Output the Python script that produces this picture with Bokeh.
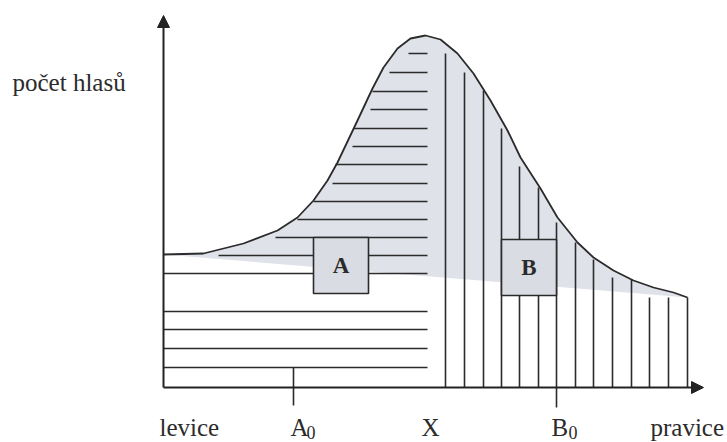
from bokeh.plotting import figure
from bokeh.models import Range1d, Arrow, NormalHead
from bokeh.core.properties import value
from bokeh.embed import file_html
from bokeh.resources import INLINE

# Curve of vote counts along the left-right axis
curve_x = [0, 40, 80, 114, 134, 150, 164, 174, 184, 194, 209, 220, 234, 247, 262,
           277, 294, 310, 327, 344, 357, 377, 394, 414, 430, 450, 470, 490, 510, 524]
curve_y = [133, 134, 144, 157, 170, 187, 207, 225, 246, 267, 299, 320, 339, 349, 352,
           348, 334, 314, 287, 257, 230, 199, 170, 145, 130, 117, 107, 100, 95, 90]

# Horizontal hatching (left part, voters of A)
h_levels = [334, 315, 296, 278, 259, 241, 223, 204, 186, 168, 150, 132, 114, 76, 58, 39, 20]
h_start = [245, 226, 209, 207, 190, 189, 172, 169, 150, 134, 112, 55, 0, 0, 0, 0, 0]
h_end = 264

# Vertical hatching (right part, voters of B)
v_pos = [282, 301, 320, 338, 356, 375, 393, 412, 430, 449, 468, 486, 505, 524]
v_top = [334, 315, 297, 259, 221, 200, 165, 145, 128, 110, 108, 90, 90, 90]

# Positions of the parties and the median voter
A0 = 130
B0 = 393
X = 267

# Party boxes: (left, right, bottom, top)
box_A = (150, 205, 94, 150)
box_B = (338, 393, 92, 148)

GRAY = "#dfe2e8"
INK = "#2b2b2b"
FONT = value("Liberation Serif")

p = figure(width=727, height=442, output_backend="svg", toolbar_location=None,
           x_range=Range1d(-163, 564), y_range=Range1d(-55, 387), min_border=0)
p.axis.visible = False
p.grid.visible = False
p.outline_line_color = None
p.background_fill_color = "white"

# shaded area between curve and its chord
p.patch(curve_x, curve_y, fill_color=GRAY, line_color=None)

# horizontal hatching
p.segment(x0=h_start, y0=h_levels, x1=[h_end] * len(h_levels), y1=h_levels,
          line_color=INK, line_width=1.6)
# vertical hatching
p.segment(x0=v_pos, y0=[0] * len(v_pos), x1=v_pos, y1=v_top,
          line_color=INK, line_width=1.6)
# B0 tick (extends below axis)
p.segment(x0=[B0], y0=[0], x1=[B0], y1=[-20], line_color=INK, line_width=1.6)
# A0 tick
p.segment(x0=[A0], y0=[h_levels[-1]], x1=[A0], y1=[-18], line_color=INK, line_width=1.6)

# boxes A and B
p.quad(left=[box_A[0], box_B[0]], right=[box_A[1], box_B[1]],
       bottom=[box_A[2], box_B[2]], top=[box_A[3], box_B[3]],
       fill_color="#d9dce2", line_color=INK, line_width=1.6)
p.text(x=[(box_A[0] + box_A[1]) / 2, (box_B[0] + box_B[1]) / 2],
       y=[(box_A[2] + box_A[3]) / 2, (box_B[2] + box_B[3]) / 2],
       text=["A", "B"], text_font=FONT, text_font_size="23px", text_font_style="bold",
       text_align="center", text_baseline="middle", text_color=INK)

# curve
p.line(curve_x, curve_y, line_color=INK, line_width=1.8)

# axes with arrows
p.add_layout(Arrow(end=NormalHead(size=12, fill_color="#222", line_color="#222"),
                   x_start=0, y_start=0, x_end=540, y_end=0,
                   line_color="#222", line_width=2))
p.add_layout(Arrow(end=NormalHead(size=12, fill_color="#222", line_color="#222"),
                   x_start=0, y_start=0, x_end=0, y_end=372,
                   line_color="#222", line_width=2))

# labels
p.text(x=[-151], y=[305], text=["počet hlasů"], text_font=FONT, text_font_size="25px",
       text_baseline="alphabetic", text_color=INK)
p.text(x=[-4, 487], y=[-40, -40], text=["levice", "pravice"], text_font=FONT,
       text_font_size="25px", text_baseline="alphabetic", text_color=INK)
p.text(x=[X], y=[-40], text=["X"], text_font=FONT, text_font_size="25px",
       text_align="center", text_baseline="alphabetic", text_color=INK)
p.text(x=[A0 - 3, B0 - 5], y=[-40, -40], text=["A", "B"], text_font=FONT,
       text_font_size="25px", text_baseline="alphabetic", text_color=INK)
p.text(x=[A0 + 13, B0 + 12], y=[-45, -45], text=["0", "0"], text_font=FONT,
       text_font_size="18px", text_baseline="alphabetic", text_color=INK)

open("out.html", "w").write(file_html(p, INLINE))
